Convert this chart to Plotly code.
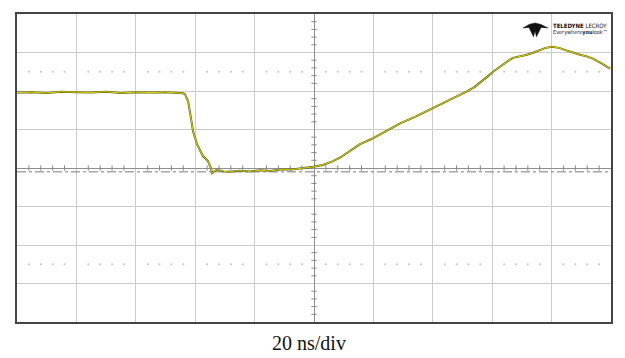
import plotly.graph_objects as go

# Time (ns, trigger at centre) and amplitude (divisions)
time_ns = [-100, -95, -90, -85, -80, -75, -70, -65, -60, -55, -50, -46, -44.1, -43.4,
           -42.4, -41.8, -40.7, -39.4, -38.3, -37.4, -35.7, -34.8, -34.3, -33.5, -32.7,
           -30.5, -28.3, -25, -21.5, -18, -14.8, -12.5, -10.4, -7.5, -4.7, -2.5, -0.3,
           3, 6.4, 9, 12.1, 15.5, 19, 22.2, 25.5, 29.0, 34, 39.1, 42.5, 45.8, 48.5, 51.5,
           54, 56.6, 58.5, 60.3, 62, 63.6, 65.3, 67.0, 69.5, 71.7, 74, 76.1, 78, 80.1,
           82.5, 85.2, 87.5, 89.6, 91.8, 93.9, 96.8, 99.7]
amplitude_div = [1.96, 1.97, 1.95, 1.98, 1.97, 1.96, 1.98, 1.95, 1.97, 1.96, 1.97, 1.96, 1.94, 1.91,
                 1.73, 1.47, 0.95, 0.62, 0.45, 0.31, 0.18, 0.02, -0.13, -0.08, -0.04,
                 -0.09, -0.10, -0.07, -0.09, -0.06, -0.08, -0.05, -0.03, -0.04, -0.01, 0.0, 0.03,
                 0.08, 0.18, 0.28, 0.44, 0.62, 0.74, 0.88, 1.01, 1.16, 1.33, 1.52, 1.64, 1.78, 1.88, 1.99,
                 2.10, 2.25, 2.38, 2.50, 2.60, 2.68, 2.78, 2.86, 2.90, 2.94, 3.00, 3.07, 3.12, 3.15,
                 3.12, 3.05, 2.99, 2.94, 2.90, 2.84, 2.72, 2.58]

x_range = [-100, 100]
y_range = [-4, 4]

fig = go.Figure()

# decorative dotted rows at +/-2.5 div
dot_x = []
for k in range(50):
    xv = -100 + k * 4
    if k % 5 != 0:
        dot_x.append(xv)
for yv in (2.5, -2.5):
    fig.add_trace(go.Scatter(x=dot_x, y=[yv] * len(dot_x), mode="markers",
                             marker=dict(size=2, color="#c4c4c4"), hoverinfo="skip",
                             showlegend=False))

shapes = []
# center cross minor ticks
for k in range(-25, 26):
    xv = k * 4
    if k % 5 != 0:
        shapes.append(dict(type="line", xref="x", yref="y", x0=xv, x1=xv, y0=-0.07, y1=0.07,
                           line=dict(color="#8a8a8a", width=1)))
for k in range(-20, 21):
    yv = k * 0.2
    if k % 5 != 0:
        shapes.append(dict(type="line", xref="x", yref="y", x0=-0.9, x1=0.9, y0=yv, y1=yv,
                           line=dict(color="#8a8a8a", width=1)))
# ground reference dash-dot line
shapes.append(dict(type="line", xref="x", yref="y", x0=-100, x1=100, y0=-0.1, y1=-0.1,
                   line=dict(color="#7a7a7a", width=1, dash="dashdot")))
# logo glyph (paper coords)
def px(xp):
    return (xp - 17) / 594
def py(yp):
    return (322 - yp) / 310
logo_pts = [(523, 26), (529, 22.5), (535, 21), (541, 22.5), (548, 26), (541, 25.5),
            (536.5, 35), (535, 29), (533.5, 35), (529, 25.5)]
path = "M " + " L ".join(f"{px(a):.4f},{py(b):.4f}" for a, b in logo_pts) + " Z"
shapes.append(dict(type="path", xref="paper", yref="paper", path=path,
                   fillcolor="#111111", line=dict(color="#111111", width=0.5)))

fig.add_trace(go.Scatter(x=time_ns, y=amplitude_div, mode="lines",
                         line=dict(color="#5c5a12", width=2.0), hoverinfo="skip",
                         showlegend=False))
fig.add_trace(go.Scatter(x=time_ns, y=amplitude_div, mode="lines",
                         line=dict(color="#e8e400", width=0.9), showlegend=False))

axis_common = dict(showticklabels=False, ticks="", showgrid=True, gridcolor="#cccccc",
                   gridwidth=1, zeroline=True, zerolinecolor="#909090", zerolinewidth=1,
                   showline=True, linecolor="#444444", linewidth=2, mirror=True)

fig.update_layout(
    width=625, height=358,
    margin=dict(l=17, r=14, t=12, b=36),
    paper_bgcolor="white", plot_bgcolor="white",
    xaxis=dict(range=x_range, dtick=20, **axis_common),
    yaxis=dict(range=y_range, dtick=1, **axis_common),
    shapes=shapes,
    annotations=[
        dict(text="20 ns/div", xref="paper", yref="paper", x=0.4916, y=-0.068,
             xanchor="center", yanchor="middle", showarrow=False,
             font=dict(family="Liberation Serif, Times New Roman, serif", size=20, color="#111111")),
        dict(text="<b>TELEDYNE</b> LECROY", xref="paper", yref="paper", x=px(551), y=py(23.5),
             xanchor="left", yanchor="middle", showarrow=False,
             font=dict(family="DejaVu Sans Condensed, Liberation Sans", size=6, color="#111111")),
        dict(text="Everywhere<b>you</b>look\u2122", xref="paper", yref="paper", x=px(551), y=py(31),
             xanchor="left", yanchor="middle", showarrow=False,
             font=dict(family="DejaVu Sans Condensed, Liberation Sans", size=5.5, color="#222222")),
    ],
)

fig.write_html("out.html", config={"displayModeBar": False},
               post_script="document.body.style.margin='0';document.body.style.overflow='hidden';")
